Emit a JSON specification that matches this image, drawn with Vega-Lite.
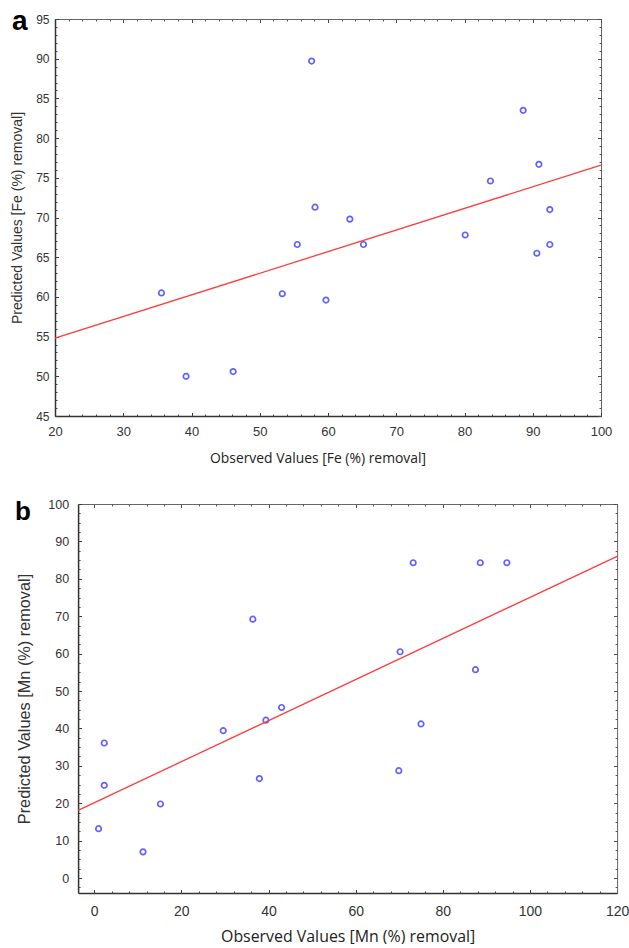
{
  "$schema": "https://vega.github.io/schema/vega-lite/v6.json",
  "background": "white",
  "padding": {"left": 10, "top": 6, "right": 5, "bottom": 0},
  "spacing": 32,
  "config": {"view": {"stroke": "#666666", "strokeWidth": 1}, "axis": {"grid": false, "labelFlush": false, "labelOverlap": false}},
  "datasets": {
    "fe": [
      {"obs": 57.6, "pred": 89.7}, {"obs": 88.6, "pred": 83.5}, {"obs": 90.9, "pred": 76.7},
      {"obs": 83.8, "pred": 74.6}, {"obs": 58.1, "pred": 71.3}, {"obs": 92.5, "pred": 71.0},
      {"obs": 63.2, "pred": 69.8}, {"obs": 55.5, "pred": 66.6}, {"obs": 65.2, "pred": 66.6},
      {"obs": 80.1, "pred": 67.8}, {"obs": 90.6, "pred": 65.5}, {"obs": 92.5, "pred": 66.6},
      {"obs": 35.6, "pred": 60.5}, {"obs": 53.3, "pred": 60.4}, {"obs": 59.7, "pred": 59.6},
      {"obs": 39.2, "pred": 50.0}, {"obs": 46.1, "pred": 50.6}
    ],
    "fe_fit": [{"obs": 20, "pred": 54.8}, {"obs": 100, "pred": 76.6}],
    "mn": [
      {"obs": 36.4, "pred": 69.2}, {"obs": 73.2, "pred": 84.3}, {"obs": 88.6, "pred": 84.3},
      {"obs": 94.7, "pred": 84.3}, {"obs": 70.2, "pred": 60.5}, {"obs": 87.5, "pred": 55.7},
      {"obs": 43.0, "pred": 45.6}, {"obs": 39.4, "pred": 42.2}, {"obs": 75.0, "pred": 41.2},
      {"obs": 29.6, "pred": 39.4}, {"obs": 2.3, "pred": 36.1}, {"obs": 2.3, "pred": 24.8},
      {"obs": 69.9, "pred": 28.7}, {"obs": 37.9, "pred": 26.6}, {"obs": 15.2, "pred": 19.8},
      {"obs": 1.0, "pred": 13.2}, {"obs": 11.2, "pred": 7.0}
    ],
    "mn_fit": [{"obs": -3.7, "pred": 18.1}, {"obs": 120, "pred": 86.0}]
  },
  "vconcat": [
    {
      "width": 546,
      "height": 397,
      "layer": [
        {
          "data": {"name": "fe"},
          "mark": {"type": "point", "shape": "circle", "filled": false, "color": "#1f1fff", "size": 30, "strokeWidth": 1.7},
          "encoding": {
            "x": {"field": "obs", "type": "quantitative", "scale": {"domain": [20, 100], "nice": false, "zero": false},
              "axis": {"orient": "bottom", "values": [20, 30, 40, 50, 60, 70, 80, 90, 100], "title": "Observed Values [Fe (%) removal]", "titleFont": "Open Sans", "titleFontSize": 13.9, "titleFontWeight": "normal", "titleColor": "#222222", "titlePadding": 13.4, "titleX": 262.5, "labelFont": "Liberation Sans", "labelFontSize": 13, "labelColor": "#333333", "labelPadding": 12.5, "tickSize": -3.5, "tickColor": "#333333", "domainColor": "#333333", "domainWidth": 1.5}},
            "y": {"field": "pred", "type": "quantitative", "scale": {"domain": [45, 95], "nice": false, "zero": false},
              "axis": {"orient": "left", "values": [45, 50, 55, 60, 65, 70, 75, 80, 85, 90, 95], "title": "Predicted Values [Fe (%) removal]", "titleFont": "Liberation Sans", "titleFontSize": 14, "titleFontWeight": "normal", "titleColor": "#333333", "titlePadding": 11, "labelFont": "Liberation Sans", "labelFontSize": 12, "labelColor": "#333333", "labelPadding": 9.5, "tickSize": -3.5, "tickColor": "#333333", "domainColor": "#333333", "domainWidth": 1.5}}
          }
        },
        {
          "data": {"name": "fe_fit"},
          "mark": {"type": "line", "color": "#ff3b3b", "strokeWidth": 1.3},
          "encoding": {
            "x": {"field": "obs", "type": "quantitative", "scale": {"domain": [20, 100], "nice": false, "zero": false},
              "axis": {"orient": "bottom", "values": [20, 22, 24, 26, 28, 30, 32, 34, 36, 38, 40, 42, 44, 46, 48, 50, 52, 54, 56, 58, 60, 62, 64, 66, 68, 70, 72, 74, 76, 78, 80, 82, 84, 86, 88, 90, 92, 94, 96, 98, 100], "labels": false, "title": null, "domain": false, "tickSize": -2, "tickColor": "#444444"}},
            "y": {"field": "pred", "type": "quantitative", "scale": {"domain": [45, 95], "nice": false, "zero": false},
              "axis": {"orient": "left", "values": [45, 46, 47, 48, 49, 50, 51, 52, 53, 54, 55, 56, 57, 58, 59, 60, 61, 62, 63, 64, 65, 66, 67, 68, 69, 70, 71, 72, 73, 74, 75, 76, 77, 78, 79, 80, 81, 82, 83, 84, 85, 86, 87, 88, 89, 90, 91, 92, 93, 94, 95], "labels": false, "title": null, "domain": false, "tickSize": -2, "tickColor": "#444444"}}
          }
        },
        {
          "data": {"name": "fe"},
          "mark": {"type": "point", "opacity": 0},
          "encoding": {
            "x": {"field": "obs", "type": "quantitative", "scale": {"domain": [20, 100], "nice": false, "zero": false},
              "axis": {"orient": "top", "values": [20, 30, 40, 50, 60, 70, 80, 90, 100], "labels": false, "domain": false, "tickSize": -3.5, "tickColor": "#444444",
                "title": "a", "titleX": -43.5, "titleY": 10.3, "titleAlign": "left", "titleBaseline": "alphabetic", "titleAngle": 0, "titleFont": "Liberation Sans", "titleFontSize": 28, "titleFontWeight": "bold", "titleColor": "#000000"}},
            "y": {"field": "pred", "type": "quantitative", "scale": {"domain": [45, 95], "nice": false, "zero": false},
              "axis": {"orient": "right", "values": [45, 50, 55, 60, 65, 70, 75, 80, 85, 90, 95], "labels": false, "title": null, "domain": false, "tickSize": -3.5, "tickColor": "#444444"}}
          }
        },
        {
          "data": {"name": "fe"},
          "mark": {"type": "point", "opacity": 0},
          "encoding": {
            "x": {"field": "obs", "type": "quantitative", "scale": {"domain": [20, 100], "nice": false, "zero": false},
              "axis": {"orient": "top", "values": [20, 22, 24, 26, 28, 30, 32, 34, 36, 38, 40, 42, 44, 46, 48, 50, 52, 54, 56, 58, 60, 62, 64, 66, 68, 70, 72, 74, 76, 78, 80, 82, 84, 86, 88, 90, 92, 94, 96, 98, 100], "labels": false, "title": null, "domain": false, "tickSize": -2, "tickColor": "#555555"}},
            "y": {"field": "pred", "type": "quantitative", "scale": {"domain": [45, 95], "nice": false, "zero": false},
              "axis": {"orient": "right", "values": [45, 46, 47, 48, 49, 50, 51, 52, 53, 54, 55, 56, 57, 58, 59, 60, 61, 62, 63, 64, 65, 66, 67, 68, 69, 70, 71, 72, 73, 74, 75, 76, 77, 78, 79, 80, 81, 82, 83, 84, 85, 86, 87, 88, 89, 90, 91, 92, 93, 94, 95], "labels": false, "title": null, "domain": false, "tickSize": -2, "tickColor": "#555555"}}
          }
        }
      ],
      "resolve": {"axis": {"x": "independent", "y": "independent"}}
    },
    {
      "width": 562.1,
      "height": 389,
      "view": {"stroke": null},
      "layer": [
        {
          "data": {"name": "mn"},
          "mark": {"type": "point", "shape": "circle", "filled": false, "color": "#1f1fff", "size": 30, "strokeWidth": 1.7},
          "encoding": {
            "x": {"field": "obs", "type": "quantitative", "scale": {"domain": [-3.7, 120], "nice": false, "zero": false, "rangeMin": 23.1},
              "axis": {"orient": "bottom", "values": [0, 20, 40, 60, 80, 100, 120], "title": "Observed Values [Mn (%) removal]", "titleFont": "Open Sans", "titleFontSize": 15.9, "titleFontWeight": "normal", "titleColor": "#222222", "titlePadding": 10, "labelFont": "Liberation Sans", "labelFontSize": 14, "labelColor": "#333333", "labelPadding": 14.5, "tickSize": -3.5, "tickColor": "#333333", "domainColor": "#333333", "domainWidth": 1.5}},
            "y": {"field": "pred", "type": "quantitative", "scale": {"domain": [-4, 100], "nice": false, "zero": false},
              "axis": {"orient": "left", "offset": -23.1, "values": [0, 10, 20, 30, 40, 50, 60, 70, 80, 90, 100], "title": "Predicted Values [Mn (%) removal]", "titleFont": "Liberation Sans", "titleFontSize": 16.3, "titleFontWeight": "normal", "titleColor": "#333333", "titlePadding": 15.5, "labelFont": "Liberation Sans", "labelFontSize": 12.5, "labelColor": "#333333", "labelPadding": 13, "tickSize": -3.5, "tickColor": "#333333", "domainColor": "#333333", "domainWidth": 1.5}}
          }
        },
        {
          "data": {"name": "mn_fit"},
          "mark": {"type": "line", "color": "#ff3b3b", "strokeWidth": 1.3},
          "encoding": {
            "x": {"field": "obs", "type": "quantitative", "scale": {"domain": [-3.7, 120], "nice": false, "zero": false, "rangeMin": 23.1},
              "axis": {"orient": "bottom", "values": [0, 4, 8, 12, 16, 20, 24, 28, 32, 36, 40, 44, 48, 52, 56, 60, 64, 68, 72, 76, 80, 84, 88, 92, 96, 100, 104, 108, 112, 116, 120], "labels": false, "title": null, "domain": false, "tickSize": -2, "tickColor": "#444444"}},
            "y": {"field": "pred", "type": "quantitative", "scale": {"domain": [-4, 100], "nice": false, "zero": false},
              "axis": {"orient": "left", "offset": -23.1, "values": [-2.5, 0, 2.5, 5, 7.5, 10, 12.5, 15, 17.5, 20, 22.5, 25, 27.5, 30, 32.5, 35, 37.5, 40, 42.5, 45, 47.5, 50, 52.5, 55, 57.5, 60, 62.5, 65, 67.5, 70, 72.5, 75, 77.5, 80, 82.5, 85, 87.5, 90, 92.5, 95, 97.5, 100], "labels": false, "title": null, "domain": false, "tickSize": -2, "tickColor": "#444444"}}
          }
        },
        {
          "data": {"name": "mn"},
          "mark": {"type": "point", "opacity": 0},
          "encoding": {
            "x": {"field": "obs", "type": "quantitative", "scale": {"domain": [-3.7, 120], "nice": false, "zero": false, "rangeMin": 23.1},
              "axis": {"orient": "top", "values": [0, 20, 40, 60, 80, 100, 120], "labels": false, "domain": true, "domainColor": "#666666", "domainWidth": 1, "tickSize": -3.5, "tickColor": "#444444",
                "title": "b", "titleX": -40.5, "titleY": 15.7, "titleAlign": "left", "titleBaseline": "alphabetic", "titleAngle": 0, "titleFont": "Liberation Sans", "titleFontSize": 26, "titleFontWeight": "bold", "titleColor": "#000000"}},
            "y": {"field": "pred", "type": "quantitative", "scale": {"domain": [-4, 100], "nice": false, "zero": false},
              "axis": {"orient": "right", "values": [0, 10, 20, 30, 40, 50, 60, 70, 80, 90, 100], "labels": false, "title": null, "domain": true, "domainColor": "#666666", "domainWidth": 1, "tickSize": -3.5, "tickColor": "#444444"}}
          }
        },
        {
          "data": {"name": "mn"},
          "mark": {"type": "point", "opacity": 0},
          "encoding": {
            "x": {"field": "obs", "type": "quantitative", "scale": {"domain": [-3.7, 120], "nice": false, "zero": false, "rangeMin": 23.1},
              "axis": {"orient": "top", "values": [0, 4, 8, 12, 16, 20, 24, 28, 32, 36, 40, 44, 48, 52, 56, 60, 64, 68, 72, 76, 80, 84, 88, 92, 96, 100, 104, 108, 112, 116, 120], "labels": false, "title": null, "domain": false, "tickSize": -2, "tickColor": "#555555"}},
            "y": {"field": "pred", "type": "quantitative", "scale": {"domain": [-4, 100], "nice": false, "zero": false},
              "axis": {"orient": "right", "values": [-2.5, 0, 2.5, 5, 7.5, 10, 12.5, 15, 17.5, 20, 22.5, 25, 27.5, 30, 32.5, 35, 37.5, 40, 42.5, 45, 47.5, 50, 52.5, 55, 57.5, 60, 62.5, 65, 67.5, 70, 72.5, 75, 77.5, 80, 82.5, 85, 87.5, 90, 92.5, 95, 97.5, 100], "labels": false, "title": null, "domain": false, "tickSize": -2, "tickColor": "#555555"}}
          }
        }
      ],
      "resolve": {"axis": {"x": "independent", "y": "independent"}}
    }
  ]
}
